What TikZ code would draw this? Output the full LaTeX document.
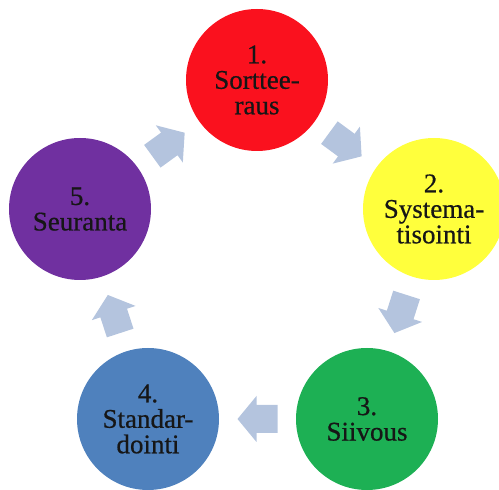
\documentclass[tikz,border=0pt]{standalone}
\usepackage{fontspec}
\setmainfont{Liberation Serif}
\newfontfamily\stagefont[FakeBold=0.6]{Liberation Serif}
\usetikzlibrary{calc}
\definecolor{cred}{RGB}{250,17,30}
\definecolor{cyellow}{RGB}{255,255,60}
\definecolor{cgreen}{RGB}{29,176,84}
\definecolor{cblue}{RGB}{79,129,189}
\definecolor{cpurple}{RGB}{112,48,160}
\definecolor{arrowc}{RGB}{180,196,222}
\definecolor{txt}{RGB}{22,22,22}
\begin{document}
\begin{tikzpicture}[x=1pt,y=1pt,
  stage/.style={circle, minimum size=142pt, inner sep=0pt, align=center,
    font=\stagefont\fontsize{27}{25.5}\selectfont, text=txt},
  blockarrow/.style={fill=arrowc}]
\useasboundingbox (0,0) rectangle (499,490);
\node[stage, fill=cred] (s1) at (257,410) {1.\\Sorttee-\\raus};
\node[stage, fill=cyellow] (s2) at (434,281) {2.\\Systema-\\tisointi};
\node[stage, fill=cgreen] (s3) at (367,71) {3.\\Siivous};
\node[stage, fill=cblue] (s4) at (148,71) {4.\\Standar-\\dointi};
\node[stage, fill=cpurple] (s5) at (80,281) {5.\\Seuranta};
\coordinate (m12) at ($(s1)!0.5!(s2)$);
\coordinate (m23) at ($(s2)!0.5!(s3)$);
\coordinate (m34) at ($(s3)!0.5!(s4)$);
\coordinate (m45) at ($(s4)!0.5!(s5)$);
\coordinate (m51) at ($(s5)!0.5!(s1)$);
\foreach \m/\a in {m12/-36.3, m23/-107.7, m34/180, m45/108, m51/36}{
  \fill[blockarrow, shift={(\m)}, rotate=\a]
    (-20,-14) -- (1,-14) -- (1,-23) -- (20,0) -- (1,23) -- (1,14) -- (-20,14) -- cycle;
}
\end{tikzpicture}
\end{document}
